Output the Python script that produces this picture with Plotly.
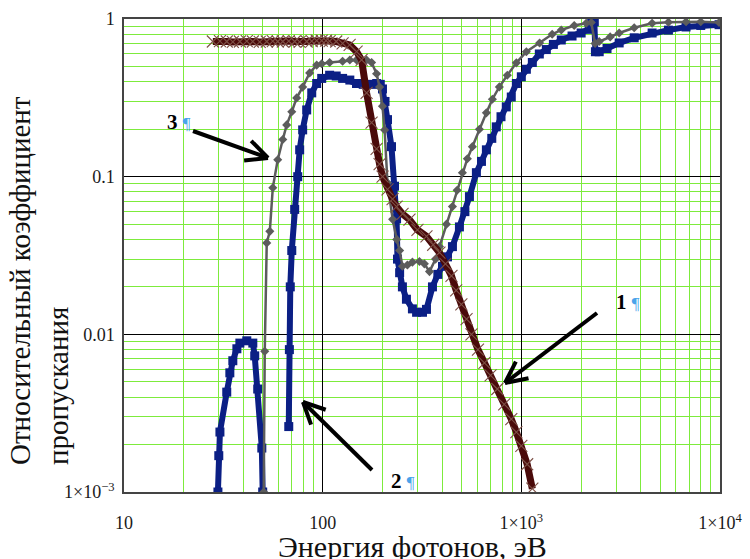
import plotly.graph_objects as go
import math

# ---------------- data ----------------
# Curve 1 (dark brown, x markers)
x1 = [28, 30.4, 32.9, 35.3, 38.3, 41.5, 44.5, 48.2, 52.3, 56.1, 59.4, 63.0, 67.5, 72.3, 76.6,
      83.1, 88.1, 93.3, 98.9, 104, 108.4, 117, 126, 136.7, 148.2, 157, 166.4, 176.3, 186.8,
      193.4, 200.2, 212, 224.8, 235.5, 252.4, 273.5, 300, 333, 360, 387, 415, 445, 470, 499,
      530, 561, 605, 652, 700, 757, 820, 890, 944, 1000, 1070, 1136]
y1 = [0.72, 0.725, 0.72, 0.715, 0.72, 0.725, 0.72, 0.715, 0.72, 0.725, 0.72, 0.72, 0.725, 0.72,
      0.715, 0.72, 0.725, 0.73, 0.73, 0.73, 0.725, 0.72, 0.70, 0.685, 0.62, 0.55, 0.34, 0.22,
      0.15, 0.12, 0.10, 0.083, 0.072, 0.0646, 0.058, 0.0534, 0.046, 0.0418, 0.037, 0.033,
      0.028, 0.0235, 0.019, 0.0155, 0.0125, 0.0100, 0.0080, 0.0066, 0.0055, 0.0045, 0.0036,
      0.0029, 0.0024, 0.00196, 0.0015, 0.00105]

# Curve 2 (blue, square markers) - low-energy hump
x2a = [29.7, 30.0, 30.4, 32.9, 34.1, 35.3, 37.0, 38.3, 41.5, 44.5, 45.5, 47.1, 49.4, 49.9]
y2a = [0.001, 0.0017, 0.0024, 0.0043, 0.0057, 0.0068, 0.0081, 0.0088, 0.0091, 0.0088, 0.0073,
       0.0045, 0.0019, 0.001]
# Curve 2 - main branch
x2b = [67.5, 68.0, 68.7, 69.9, 72.3, 74.9, 76.6, 79.3, 83.1, 88.1, 93.3, 98.9, 108.4, 117, 126,
       137, 148, 160, 176, 187, 195, 200, 206, 212, 222, 230, 235.5, 238, 244, 252, 264, 283,
       297, 318, 333, 357, 380, 401, 425, 450, 488, 520, 548, 594, 630, 667, 710, 748, 790, 840,
       890, 944, 1000, 1060, 1136, 1232, 1336, 1450, 1589, 1800, 2000, 2196, 2260, 2330, 2360,
       2466, 2700, 3108, 3700, 4553, 5500, 6747, 8000, 9886]
y2b = [0.0026, 0.008, 0.02, 0.034, 0.062, 0.1, 0.148, 0.198, 0.265, 0.34, 0.39, 0.42, 0.44, 0.435,
       0.42, 0.41, 0.39, 0.385, 0.385, 0.39, 0.385, 0.36, 0.30, 0.23, 0.155, 0.087, 0.054, 0.03,
       0.0246, 0.020, 0.0167, 0.0145, 0.0138, 0.0138, 0.0144, 0.020, 0.024, 0.027, 0.031, 0.036,
       0.048, 0.060, 0.0747, 0.106, 0.125, 0.148, 0.175, 0.207, 0.24, 0.277, 0.32, 0.39, 0.43,
       0.48, 0.53, 0.60, 0.64, 0.69, 0.736, 0.78, 0.815, 0.86, 0.96, 0.96, 0.62, 0.62, 0.65,
       0.705, 0.76, 0.815, 0.85, 0.89, 0.91, 0.92]

# Curve 3 (grey, diamond markers)
x3 = [50.5, 51.1, 52.3, 54.2, 56.1, 59.4, 63.0, 65.9, 69.9, 74.0, 79.3, 86.0, 93.3, 98.9, 108.4,
      126, 137, 148, 166.4, 176.3, 186.8, 193.4, 200, 205, 212, 225, 236, 244, 252, 267, 283,
      307, 325, 345, 370, 387, 420, 450, 475, 505, 535, 567, 615, 667, 715, 775, 850, 944, 1060,
      1236, 1430, 1589, 1846, 2121, 2250, 2350, 2466, 2800, 3108, 3700, 4553, 5500, 6747, 8000,
      9886]
y3 = [0.001, 0.0078, 0.038, 0.045, 0.085, 0.128, 0.172, 0.213, 0.258, 0.316, 0.37, 0.455, 0.51,
      0.52, 0.53, 0.54, 0.55, 0.55, 0.55, 0.53, 0.45, 0.37, 0.28, 0.198, 0.0915, 0.0536, 0.040,
      0.034, 0.027, 0.0275, 0.0287, 0.029, 0.028, 0.025, 0.030, 0.036, 0.05, 0.0646, 0.082,
      0.106, 0.13, 0.155, 0.2, 0.254, 0.31, 0.371, 0.44, 0.527, 0.62, 0.705, 0.80, 0.852, 0.91,
      0.94, 0.95, 0.70, 0.72, 0.77, 0.815, 0.88, 0.94, 0.955, 0.96, 0.96, 0.95]

x_tickvals = [10, 100, 1000, 10000]
x_ticktext = ["10", "100", "1×10<sup>3</sup>", "1×10<sup>4</sup>"]
y_tickvals = [0.001, 0.01, 0.1, 1]
y_ticktext = ["1×10<sup>−3</sup>", "0.01", "0.1", "1"]

x_title = "Энергия фотонов, эВ"
y_title = "Относительный коэффициент<br>пропускания"
labels = ["1", "2", "3"]

# ---------------- styling ----------------
FONT = "Liberation Serif, Times New Roman, serif"
GREEN = "rgb(125,235,60)"
BROWN = "#4a0a0a"
BLUE = "#0b1f85"
GREY = "#5c5c5c"
TICKMARK = "rgb(125,80,70)"

W, H = 750, 559
L, R, T, B = 124, 30, 19, 67
PW, PH = W - L - R, H - T - B

def minor_vals(lo_exp, hi_exp):
    v = []
    for e in range(lo_exp, hi_exp):
        for m in range(2, 10):
            v.append(m * 10 ** e)
    return v

fig = go.Figure()

fig.add_trace(go.Scatter(x=x2a, y=y2a, mode="lines+markers",
                         line=dict(color=BLUE, width=6),
                         marker=dict(symbol="square", size=9, color=BLUE),
                         showlegend=False))
fig.add_trace(go.Scatter(x=x2b, y=y2b, mode="lines+markers",
                         line=dict(color=BLUE, width=6),
                         marker=dict(symbol="square", size=9, color=BLUE),
                         showlegend=False))
fig.add_trace(go.Scatter(x=x3, y=y3, mode="lines+markers",
                         line=dict(color=GREY, width=2.5),
                         marker=dict(symbol="diamond", size=7, color=GREY),
                         showlegend=False))
fig.add_trace(go.Scatter(x=x1, y=y1, mode="lines",
                         line=dict(color=BROWN, width=7),
                         showlegend=False))
fig.add_trace(go.Scatter(x=x1, y=y1, mode="markers",
                         marker=dict(symbol="x-thin-open", size=12, color=TICKMARK,
                                     line=dict(color=TICKMARK, width=1.1)),
                         showlegend=False))

fig.update_xaxes(type="log", range=[1, 4], automargin=False,
                 tickvals=x_tickvals, ticktext=x_ticktext,
                 showgrid=True, gridcolor="black", gridwidth=1,
                 minor=dict(tickvals=minor_vals(1, 4), showgrid=True,
                            gridcolor=GREEN, gridwidth=1.3, ticks=""),
                 showline=True, linecolor="#444444", linewidth=1.5, mirror=True,
                 ticks="", ticklabelstandoff=14,
                 tickfont=dict(family=FONT, size=18, color="#1a1a1a"))
fig.update_yaxes(type="log", range=[-3, 0], automargin=False,
                 tickvals=y_tickvals, ticktext=y_ticktext,
                 showgrid=True, gridcolor="black", gridwidth=1,
                 minor=dict(tickvals=minor_vals(-3, 0), showgrid=True,
                            gridcolor=GREEN, gridwidth=1.3, ticks=""),
                 showline=True, linecolor="#444444", linewidth=1.5, mirror=True,
                 ticks="", ticklabelstandoff=4,
                 tickfont=dict(family=FONT, size=18, color="#1a1a1a"))

def px2paper(px, py):
    return (px - L) / PW, (T + PH - py) / PH

annotations = []
# axis titles
xp, yp = px2paper(412, 546)
annotations.append(dict(text=x_title, x=xp, y=yp, xref="paper", yref="paper",
                        xanchor="center", yanchor="middle",
                        showarrow=False, font=dict(family=FONT, size=30, color="#111")))
xp, yp = px2paper(39, 281)
annotations.append(dict(text=y_title, x=xp, y=yp, xref="paper", yref="paper",
                        xanchor="center", yanchor="middle",
                        showarrow=False, textangle=-90, align="left",
                        font=dict(family=FONT, size=29, color="#111")))

# curve labels
label_pos = {"1": (614, 302), "2": (389, 481), "3": (165, 122)}
for lab in labels:
    xp, yp = px2paper(*label_pos[lab])
    annotations.append(dict(text="<b>%s</b> <span style='color:#4aa3ea;font-size:17px'>¶</span>" % lab,
                            x=xp, y=yp, xref="paper", yref="paper",
                            xanchor="left", yanchor="middle",
                            showarrow=False, font=dict(family=FONT, size=21, color="black")))

# arrows (tail -> head, in pixels) drawn as shapes with open chevron heads
arrows = {"1": ((597, 313), (505, 383)), "2": ((372, 470), (303, 402)), "3": ((193, 131), (268, 158))}
shapes = []
for lab, ((tx, ty), (hx, hy)) in arrows.items():
    ang = math.atan2(ty - hy, tx - hx)
    pts = []
    for da in (0.45, -0.45):
        pts.append((hx + 24 * math.cos(ang + da), hy + 24 * math.sin(ang + da)))
    for (ax_, ay_), (bx_, by_) in [((tx, ty), (hx, hy)), (pts[0], (hx, hy)), (pts[1], (hx, hy))]:
        x0, y0 = px2paper(ax_, ay_)
        x1_, y1_ = px2paper(bx_, by_)
        shapes.append(dict(type="line", xref="paper", yref="paper", x0=x0, y0=y0, x1=x1_, y1=y1_,
                           line=dict(color="black", width=4)))

fig.update_layout(width=W, height=H, margin=dict(l=L, r=R, t=T, b=B, autoexpand=False),
                  paper_bgcolor="white", plot_bgcolor="white",
                  annotations=annotations, shapes=shapes, showlegend=False)

fig.write_html("out.html", config={"displayModeBar": False},
               post_script="document.body.style.margin='0px';document.body.style.overflow='hidden';")
